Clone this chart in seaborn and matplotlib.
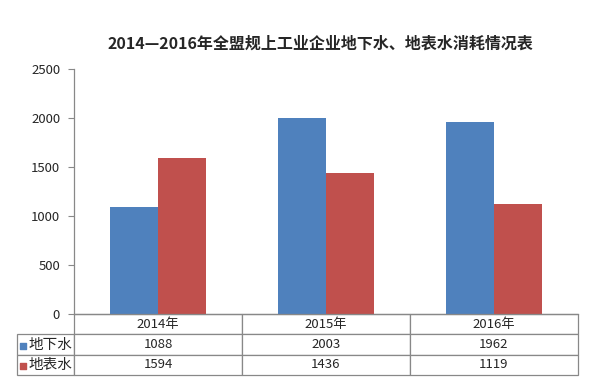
import pandas as pd
import numpy as np
import seaborn as sns
import matplotlib.pyplot as plt

# data
years = ["2014年", "2015年", "2016年"]
series_names = ["地下水", "地表水"]
groundwater = [1088, 2003, 1962]
surface_water = [1594, 1436, 1119]
colors = ["#4F81BD", "#C0504D"]
title = "2014—2016年全盟规上工业企业地下水、地表水消耗情况表"

sns.set_style("white")
plt.rcParams["font.family"] = ["Noto Sans CJK SC", "DejaVu Sans"]

df = pd.DataFrame({
    "year": years * 2,
    "kind": [series_names[0]] * 3 + [series_names[1]] * 3,
    "value": groundwater + surface_water,
})

fig = plt.figure(figsize=(5.96, 3.92), dpi=100)
ax = fig.add_axes([74 / 596, 1 - 314 / 392, 504 / 596, 245 / 392])

sns.barplot(data=df, x="year", y="value", hue="kind", palette=colors,
            width=0.57, gap=0, saturation=1, legend=False, linewidth=0,
            ax=ax)

ax.set_ylim(0, 2500)
ax.set_yticks(np.arange(0, 2501, 500))
ax.set_xlim(-0.5, 2.5)
ax.set_xticks([])
ax.set_xlabel("")
ax.set_ylabel("")
ax.tick_params(axis="y", labelsize=9.5, length=4, width=0.8, color="#888888",
               left=True, pad=6)
for s in ["top", "right"]:
    ax.spines[s].set_visible(False)
for s in ["left", "bottom"]:
    ax.spines[s].set_color("#888888")
    ax.spines[s].set_linewidth(0.9)

fig.text(0.537, 1 - 44 / 392, title, ha="center", va="center",
         fontsize=11.5, fontweight="bold")

# data table under the chart
cell_text = [[""] + years]
cell_text.append([series_names[0]] + [str(v) for v in groundwater])
cell_text.append([series_names[1]] + [str(v) for v in surface_water])
first_w = 57 / 504
tbl = ax.table(cellText=cell_text, cellLoc="center",
               colWidths=[first_w, 1 / 3, 1 / 3, 1 / 3],
               bbox=[-first_w, -61 / 245, 1 + first_w, 61 / 245])
tbl.auto_set_font_size(False)
tbl.set_fontsize(9.5)
for (r, c), cell in tbl.get_celld().items():
    cell.set_edgecolor("#888888")
    cell.set_linewidth(0.9)
    if r == 0 and c == 0:
        cell.visible_edges = ""
    if r > 0 and c == 0:
        cell.get_text().set_ha("right")
        cell._loc = "right"
        cell.PAD = 0.03
        cell.get_text().set_fontsize(10.5)

# legend keys inside the table
for i, col in enumerate(colors):
    ax.scatter([-first_w + 0.012], [-(31.5 + 20 * i) / 245], marker="s", s=22,
               color=col, transform=ax.transAxes, clip_on=False)

fig.savefig("out.png", dpi=100)
